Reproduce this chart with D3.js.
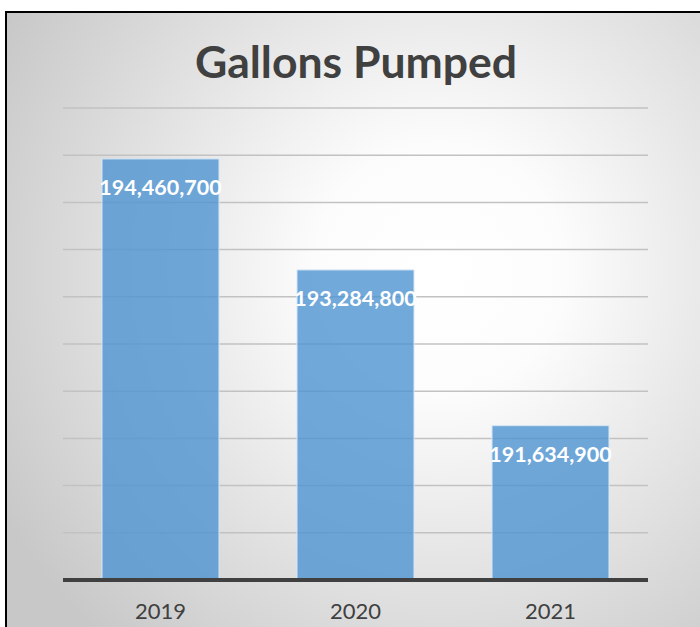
<!DOCTYPE html>
<html>
<head>
<meta charset="utf-8">
<script src="https://cdn.jsdelivr.net/npm/d3@7"></script>
<style>
  html, body { margin: 0; padding: 0; background: #ffffff; }
  svg { display: block; }
</style>
</head>
<body>
<svg id="chart" width="700" height="627"></svg>
<script>
// Annual pumping totals
const title = "Gallons Pumped";
const years = ["2019", "2020", "2021"];
const gallons = [194460700, 193284800, 191634900];
const yDomain = [190000000, 195000000];
const gridStep = 500000;

const frame = { x: 6, y: 12, w: 700, h: 630 };
const plot = { left: 63, right: 648, top: 108, bottom: 580 };
const FONT = "Lato, 'Open Sans', sans-serif";

const svg = d3.select("#chart");
const defs = svg.append("defs");

// soft radial wash behind the chart
const bg = defs.append("radialGradient")
  .attr("id", "bgWash")
  .attr("gradientUnits", "userSpaceOnUse")
  .attr("cx", 440).attr("cy", 270).attr("r", 500);
bg.append("stop").attr("offset", 0).attr("stop-color", "#ffffff");
bg.append("stop").attr("offset", 0.25).attr("stop-color", "#fcfcfc");
bg.append("stop").attr("offset", 1).attr("stop-color", "#c8c8c8");

svg.append("rect")
  .attr("x", frame.x).attr("y", frame.y)
  .attr("width", frame.w).attr("height", frame.h)
  .attr("fill", "url(#bgWash)")
  .attr("stroke", "#000000")
  .attr("stroke-width", 2);

const x = d3.scaleBand()
  .domain(years)
  .range([plot.left, plot.right])
  .paddingInner(0.4)
  .paddingOuter(0.2);

const y = d3.scaleLinear()
  .domain(yDomain)
  .range([plot.bottom, plot.top]);

// horizontal gridlines
const gridVals = d3.range(yDomain[0] + gridStep, yDomain[1] + gridStep / 2, gridStep);
svg.append("g")
  .selectAll("line")
  .data(gridVals)
  .join("line")
  .attr("x1", plot.left).attr("x2", plot.right)
  .attr("y1", d => y(d)).attr("y2", d => y(d))
  .attr("stroke", "#c2c2c2")
  .attr("stroke-width", 1.5);

// bars
const rows = years.map((yr, i) => ({ yr, v: gallons[i] }));
svg.append("g")
  .selectAll("rect")
  .data(rows)
  .join("rect")
  .attr("x", d => x(d.yr))
  .attr("width", x.bandwidth())
  .attr("y", d => y(d.v))
  .attr("height", d => y(yDomain[0]) - y(d.v))
  .attr("fill", "#4e93d2")
  .attr("fill-opacity", 0.8)
  .attr("stroke", "#d6e6f5")
  .attr("stroke-width", 1);

// value labels inside bar tops
const fmt = d3.format(",");
svg.append("g")
  .selectAll("text")
  .data(rows)
  .join("text")
  .attr("x", d => x(d.yr) + x.bandwidth() / 2)
  .attr("y", d => y(d.v) + 36)
  .attr("text-anchor", "middle")
  .attr("font-family", FONT)
  .attr("font-weight", 700)
  .attr("font-size", 21.5)
  .attr("fill", "#ffffff")
  .text(d => fmt(d.v));

// category axis
const xAxis = svg.append("g")
  .attr("transform", `translate(0,${plot.bottom})`)
  .call(d3.axisBottom(x).tickSize(0).tickPadding(0));
xAxis.select(".domain").remove();
xAxis.selectAll("text")
  .attr("y", 39)
  .attr("dy", 0)
  .attr("font-family", FONT)
  .attr("font-size", 22)
  .attr("fill", "#404040");

// baseline
svg.append("line")
  .attr("x1", plot.left).attr("x2", plot.right)
  .attr("y1", plot.bottom).attr("y2", plot.bottom)
  .attr("stroke", "#404040")
  .attr("stroke-width", 4);

// title
svg.append("text")
  .attr("x", 356)
  .attr("y", 78)
  .attr("text-anchor", "middle")
  .attr("font-family", FONT)
  .attr("font-weight", 700)
  .attr("font-size", 44.5)
  .attr("fill", "#404040")
  .text(title);
</script>
</body>
</html>
